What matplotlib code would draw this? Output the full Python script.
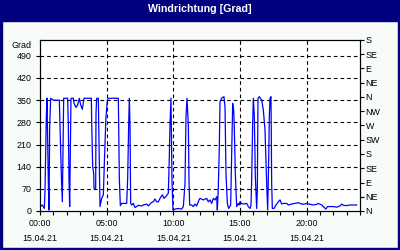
import matplotlib
matplotlib.use("Agg")
import matplotlib.pyplot as plt
from matplotlib.patches import Rectangle

# ---- data (hours since 00:00 on 15.04.21, wind direction in degrees) ----
hours = [0.025, 0.175, 0.325, 0.375, 0.425, 0.475, 0.525, 0.625, 0.675, 0.725, 0.80, 1.0, 1.175, 1.45,
         1.5, 1.6, 1.675, 1.775, 2.075, 2.125, 2.175, 2.225, 2.325, 2.5, 2.55, 2.7, 2.825, 2.95, 3.05,
         3.175, 3.3, 3.85, 3.875, 3.95, 4.025, 4.05, 4.175, 4.2, 4.25, 4.375, 4.425, 4.5, 4.625, 4.75,
         4.875, 4.95, 5.05, 5.125, 5.875, 5.9, 5.95, 6.025, 6.125, 6.5, 6.575, 6.65, 6.7, 6.75, 6.8,
         6.875, 7.0, 7.125, 7.25, 7.375, 7.625, 7.75, 8.0, 8.125, 8.25, 8.375, 8.5, 8.625, 8.75, 8.875,
         9.0, 9.175, 9.3, 9.425, 9.625, 9.7, 9.75, 9.825, 9.9, 9.975, 10.125, 10.375, 10.625, 10.75,
         10.875, 10.95, 11.025, 11.125, 11.175, 11.225, 11.375, 11.5, 11.625, 11.75, 11.925,
         12.0, 12.25, 12.5, 12.625, 12.75, 12.875, 13.0, 13.125, 13.25, 13.3, 13.375, 13.45, 13.5,
         13.625, 13.8, 13.875, 13.95, 14.05, 14.15, 14.3, 14.375, 14.45, 14.525, 14.575, 14.65, 14.75,
         14.875, 14.95, 15.0, 15.125, 15.25, 15.5, 15.625, 15.75, 15.825, 15.875, 15.95, 16.0, 16.075,
         16.15, 16.25, 16.3, 16.35, 16.45, 16.625, 16.75, 16.875, 17.0, 17.075, 17.125, 17.2, 17.25,
         17.325, 17.375, 17.425, 17.55, 17.7, 17.875, 18.0, 18.125, 18.25, 18.5, 18.625, 18.875,
         19.125, 19.375, 19.5, 19.75, 20.0, 20.25, 20.5, 20.75, 20.875, 21.125, 21.25, 21.45, 21.55,
         21.75, 22.0, 22.25, 22.5, 22.625, 22.75, 23.0, 23.25, 23.5, 23.75]
degrees = [14, 19, 8, 66, 182, 298, 356, 93, 3, 266, 356, 350, 350, 350,
           272, 114, 29, 356, 356, 272, 98, 14, 356, 356, 340, 327, 335, 356, 335,
           321, 356, 356, 287, 140, 119, 72, 72, 308, 356, 356, 214, 14, 40, 51,
           214, 298, 350, 356, 356, 272, 103, 17, 24, 24, 103, 272, 356, 272, 24,
           19, 24, 11, 14, 18, 16, 19, 22, 16, 22, 27, 29, 38, 29, 29,
           40, 51, 40, 45, 56, 172, 277, 356, 93, 3, 6, 8, 6, 14,
           87, 298, 356, 272, 98, 19, 19, 14, 22, 16, 35,
           40, 35, 40, 29, 35, 24, 40, 35, 45, 3, 77, 203, 345,
           356, 361, 329, 119, 24, 8, 19, 177, 340, 319, 256, 119, 14,
           24, 19, 29, 24, 22, 24, 14, 8, 19, 98, 277, 356, 298,
           108, 8, 66, 356, 361, 350, 319, 256, 87, 3, 98, 298, 356,
           361, 87, 8, 8, 19, 29, 35, 22, 24, 24, 19, 22,
           24, 26, 24, 21, 24, 21, 19, 21, 24, 19, 14, 6, 14,
           14, 14, 12, 16, 22, 18, 17, 19, 19, 19]

left_ticks = [0, 70, 140, 210, 280, 350, 420, 490]
right_ticks = [0, 45, 90, 135, 180, 225, 270, 315, 360, 405, 450, 495, 540]
right_labels = ["N", "NE", "E", "SE", "S", "SW", "W", "NW", "N", "NE", "E", "SE", "S"]
x_major = [0, 5, 10, 15, 20]
x_labels = ["00:00\n15.04.21", "05:00\n15.04.21", "10:00\n15.04.21", "15:00\n15.04.21", "20:00\n15.04.21"]
title = "Windrichtung [Grad]"

NAVY = "#000080"
BG = "#F8FCF8"
FONT = "Liberation Sans"
FS = 6.4

fig = plt.figure(figsize=(4, 2.5), dpi=100, facecolor=BG)
W, H = 400, 250
# frame and title bar
fig.patches.append(Rectangle((0, 1 - 21 / H), 1, 21 / H, transform=fig.transFigure, color=NAVY, zorder=0))
fig.patches.append(Rectangle((0, 0), 2 / W, 1, transform=fig.transFigure, color=NAVY, zorder=0))
fig.patches.append(Rectangle((1 - 2 / W, 0), 2 / W, 1, transform=fig.transFigure, color=NAVY, zorder=0))
fig.patches.append(Rectangle((0, 0), 1, 2 / H, transform=fig.transFigure, color=NAVY, zorder=0))
fig.text(0.5, 1 - 9.2 / H, title, color="white", fontweight="bold", fontsize=7.7,
         family=FONT, ha="center", va="center")

ax = fig.add_axes([40 / W, 39 / H, 320 / W, 171 / H])
ax.set_facecolor("white")
ax.plot(hours, degrees, color="#0000FF", lw=0.9, zorder=3)
ax.set_xlim(0, 24)
ax.set_ylim(0, 540)

ax.set_yticks(left_ticks)
ax.set_yticklabels([str(v) for v in left_ticks], family=FONT, fontsize=FS)
ax.set_xticks(x_major)
ax.set_xticklabels(x_labels, family=FONT, fontsize=FS)
for lbl in ax.get_xticklabels():
    lbl.set_linespacing(1.85)
ax.set_xticks(range(0, 25), minor=True)
ax.tick_params(axis="x", which="both", direction="out", length=3, width=0.8, pad=2.6)
ax.tick_params(axis="y", direction="out", length=3, width=0.8, pad=3)

dash = (0, (3.3, 2.7))
for v in left_ticks[1:]:
    ax.axhline(v, color="black", lw=0.8, linestyle=dash, zorder=1)
for v in x_major[1:]:
    ax.axvline(v, color="black", lw=0.8, linestyle=dash, zorder=1)
for s in ax.spines.values():
    s.set_linewidth(0.8)
    s.set_color("black")

ax.text(-0.025, 540 - 18, "Grad", transform=ax.get_yaxis_transform(), ha="right", va="center",
        family=FONT, fontsize=FS)

ax2 = ax.twinx()
ax2.set_ylim(0, 540)
ax2.set_yticks(right_ticks)
ax2.set_yticklabels(right_labels, family=FONT, fontsize=FS)
ax2.tick_params(axis="y", direction="out", length=3, width=0.8, pad=1)

fig.savefig("out.png", dpi=100, facecolor=BG)
